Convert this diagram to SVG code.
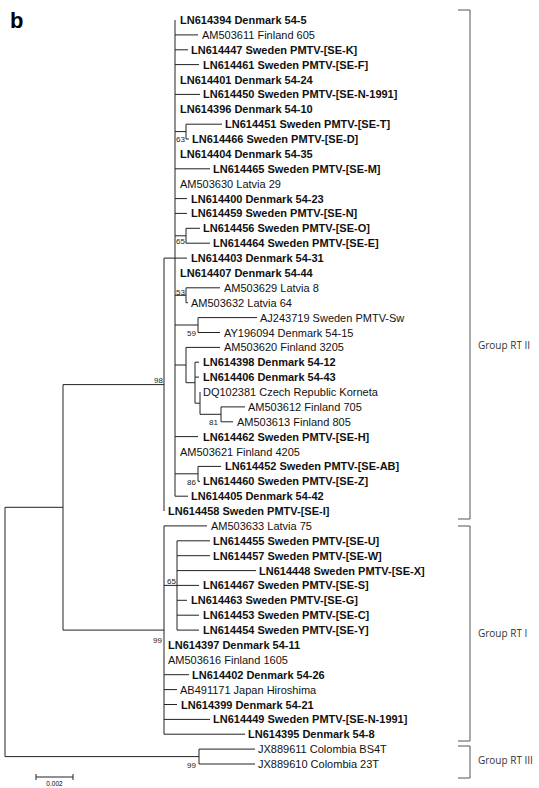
<svg xmlns="http://www.w3.org/2000/svg" width="539" height="788" viewBox="0 0 539 788">
<style>
.t{font-family:"Liberation Sans",Arial,sans-serif;font-size:11px;fill:#111}
.b{font-weight:bold}
.s{font-family:"Liberation Sans",Arial,sans-serif;font-size:8px;fill:#222}
.g{font-family:"Open Sans","Liberation Sans",sans-serif;font-size:10px;fill:#333}
.e{stroke:#222;stroke-width:1;fill:none}
.k{stroke:#555;stroke-width:1;fill:none}
</style>
<rect width="539" height="788" fill="#fff"/>
<text x="10" y="28" font-family="Liberation Sans,Arial,sans-serif" font-weight="bold" font-size="22">b</text>
<g id="connectors" class="e">
<path d="M5,507.3V756.6M5,507.3H63M5,756.6H199"/>
<path d="M63,384.6V630.1M63,384.6H164M63,630.1H164"/>
<path d="M164,258.1V511M164,258.1H175"/>
<path d="M175,20V496.2"/>
<path d="M175,34.9H198M175,49.8H188M175,64.6H199M175,94.4H200"/>
<path d="M175,131.6H186M186,124.2V139M186,124.2H222M186,139H189"/>
<path d="M175,168.8H210M175,198.6H187M175,213.4H187"/>
<path d="M175,235.8H186M186,228.3V243.2M186,228.3H200M186,243.2H210"/>
<path d="M175,258.1H187"/>
<path d="M175,295.3H186M186,287.8V302.7M186,287.8H220M186,302.7H188"/>
<path d="M175,325H198M198,317.6V332.5M198,317.6H257M198,332.5H220"/>
<path d="M175,365H186M186,347.4V382.7M186,347.4H220M186,382.7H195M195,362.2V403.2M195,362.2H199M195,377.1H199M195,403.2H200M200,392V414.3M200,414.3H221M221,406.9V421.8M221,406.9H245M221,421.8H233"/>
<path d="M175,436.6H198"/>
<path d="M175,473.8H198M198,466.4V481.3M198,466.4H221M198,481.3H200"/>
<path d="M175,496.2H188"/>
<path d="M164,525.9V734.2M164,525.9H207"/>
<path d="M164,585.4H177M177,540.8V630.1M177,540.8H210M177,555.7H210M177,570.6H256M177,585.4H199M177,600.3H187M177,615.2H199M177,630.1H199"/>
<path d="M164,674.7H189M164,689.6H177M164,704.5H177M164,719.4H210M164,734.2H245"/>
<path d="M199,749.1V764M199,749.1H255M199,764H255"/>
</g>
<g id="support" class="s">
<text x="185" y="142" text-anchor="end">63</text>
<text x="185" y="244" text-anchor="end">65</text>
<text x="185" y="295" text-anchor="end">53</text>
<text x="196" y="336" text-anchor="end">59</text>
<text x="163" y="383" text-anchor="end">98</text>
<text x="218" y="425" text-anchor="end">81</text>
<text x="196" y="485" text-anchor="end">86</text>
<text x="176" y="584" text-anchor="end">65</text>
<text x="162" y="643" text-anchor="end">99</text>
<text x="196" y="768" text-anchor="end">99</text>
</g>
<g id="n0" class="t b"><text x="180" y="24">LN614394 Denmark 54-5</text></g>
<g id="n1" class="t"><text x="202" y="38.9">AM503611 Finland 605</text></g>
<g id="n2" class="t b"><text x="191" y="53.8">LN614447 Sweden PMTV-[SE-K]</text></g>
<g id="n3" class="t b"><text x="203" y="68.6">LN614461 Sweden PMTV-[SE-F]</text></g>
<g id="n4" class="t b"><text x="180" y="83.5">LN614401 Denmark 54-24</text></g>
<g id="n5" class="t b"><text x="203" y="98.4">LN614450 Sweden PMTV-[SE-N-1991]</text></g>
<g id="n6" class="t b"><text x="180" y="113.3">LN614396 Denmark 54-10</text></g>
<g id="n7" class="t b"><text x="225" y="128.2">LN614451 Sweden PMTV-[SE-T]</text></g>
<g id="n8" class="t b"><text x="192" y="143">LN614466 Sweden PMTV-[SE-D]</text></g>
<g id="n9" class="t b"><text x="180" y="157.9">LN614404 Denmark 54-35</text></g>
<g id="n10" class="t b"><text x="213" y="172.8">LN614465 Sweden PMTV-[SE-M]</text></g>
<g id="n11" class="t"><text x="180" y="187.7">AM503630 Latvia 29</text></g>
<g id="n12" class="t b"><text x="191" y="202.6">LN614400 Denmark 54-23</text></g>
<g id="n13" class="t b"><text x="191" y="217.4">LN614459 Sweden PMTV-[SE-N]</text></g>
<g id="n14" class="t b"><text x="203" y="232.3">LN614456 Sweden PMTV-[SE-O]</text></g>
<g id="n15" class="t b"><text x="213" y="247.2">LN614464 Sweden PMTV-[SE-E]</text></g>
<g id="n16" class="t b"><text x="191" y="262.1">LN614403 Denmark 54-31</text></g>
<g id="n17" class="t b"><text x="180" y="277">LN614407 Denmark 54-44</text></g>
<g id="n18" class="t"><text x="224" y="291.8">AM503629 Latvia 8</text></g>
<g id="n19" class="t"><text x="191" y="306.7">AM503632 Latvia 64</text></g>
<g id="n20" class="t"><text x="260" y="321.6">AJ243719 Sweden PMTV-Sw</text></g>
<g id="n21" class="t"><text x="224" y="336.5">AY196094 Denmark 54-15</text></g>
<g id="n22" class="t"><text x="224" y="351.4">AM503620 Finland 3205</text></g>
<g id="n23" class="t b"><text x="203" y="366.2">LN614398 Denmark 54-12</text></g>
<g id="n24" class="t b"><text x="203" y="381.1">LN614406 Denmark 54-43</text></g>
<g id="n25" class="t"><text x="203" y="396">DQ102381 Czech Republic Korneta</text></g>
<g id="n26" class="t"><text x="248" y="410.9">AM503612 Finland 705</text></g>
<g id="n27" class="t"><text x="237" y="425.8">AM503613 Finland 805</text></g>
<g id="n28" class="t b"><text x="203" y="440.6">LN614462 Sweden PMTV-[SE-H]</text></g>
<g id="n29" class="t"><text x="180" y="455.5">AM503621 Finland 4205</text></g>
<g id="n30" class="t b"><text x="225" y="470.4">LN614452 Sweden PMTV-[SE-AB]</text></g>
<g id="n31" class="t b"><text x="203" y="485.3">LN614460 Sweden PMTV-[SE-Z]</text></g>
<g id="n32" class="t b"><text x="191" y="500.2">LN614405 Denmark 54-42</text></g>
<g id="n33" class="t b"><text x="168" y="515">LN614458 Sweden PMTV-[SE-I]</text></g>
<g id="n34" class="t"><text x="211" y="529.9">AM503633 Latvia 75</text></g>
<g id="n35" class="t b"><text x="213" y="544.8">LN614455 Sweden PMTV-[SE-U]</text></g>
<g id="n36" class="t b"><text x="213" y="559.7">LN614457 Sweden PMTV-[SE-W]</text></g>
<g id="n37" class="t b"><text x="259" y="574.6">LN614448 Sweden PMTV-[SE-X]</text></g>
<g id="n38" class="t b"><text x="203" y="589.4">LN614467 Sweden PMTV-[SE-S]</text></g>
<g id="n39" class="t b"><text x="191" y="604.3">LN614463 Sweden PMTV-[SE-G]</text></g>
<g id="n40" class="t b"><text x="203" y="619.2">LN614453 Sweden PMTV-[SE-C]</text></g>
<g id="n41" class="t b"><text x="203" y="634.1">LN614454 Sweden PMTV-[SE-Y]</text></g>
<g id="n42" class="t b"><text x="168" y="649">LN614397 Denmark 54-11</text></g>
<g id="n43" class="t"><text x="168" y="663.8">AM503616 Finland 1605</text></g>
<g id="n44" class="t b"><text x="192" y="678.7">LN614402 Denmark 54-26</text></g>
<g id="n45" class="t"><text x="180" y="693.6">AB491171 Japan Hiroshima</text></g>
<g id="n46" class="t b"><text x="181" y="708.5">LN614399 Denmark 54-21</text></g>
<g id="n47" class="t b"><text x="213" y="723.4">LN614449 Sweden PMTV-[SE-N-1991]</text></g>
<g id="n48" class="t b"><text x="248" y="738.2">LN614395 Denmark 54-8</text></g>
<g id="n49" class="t"><text x="258" y="753.1">JX889611 Colombia BS4T</text></g>
<g id="n50" class="t"><text x="258" y="768">JX889610 Colombia 23T</text></g>
<g id="groups">
<path class="k" d="M458,10H470V519H458"/>
<text class="g" x="478" y="349">Group RT II</text>
<path class="k" d="M458,526H470V741H458"/>
<text class="g" x="478" y="637">Group RT I</text>
<path class="k" d="M458,746H470V778H458"/>
<text class="g" x="478" y="764">Group RT III</text>
</g>
<g id="scalebar">
<path class="e" d="M36,777H73M36,774V780M73,774V780"/>
<text x="54.5" y="786" text-anchor="middle" font-family="Liberation Sans,Arial,sans-serif" font-size="6.5">0.002</text>
</g>
</svg>
